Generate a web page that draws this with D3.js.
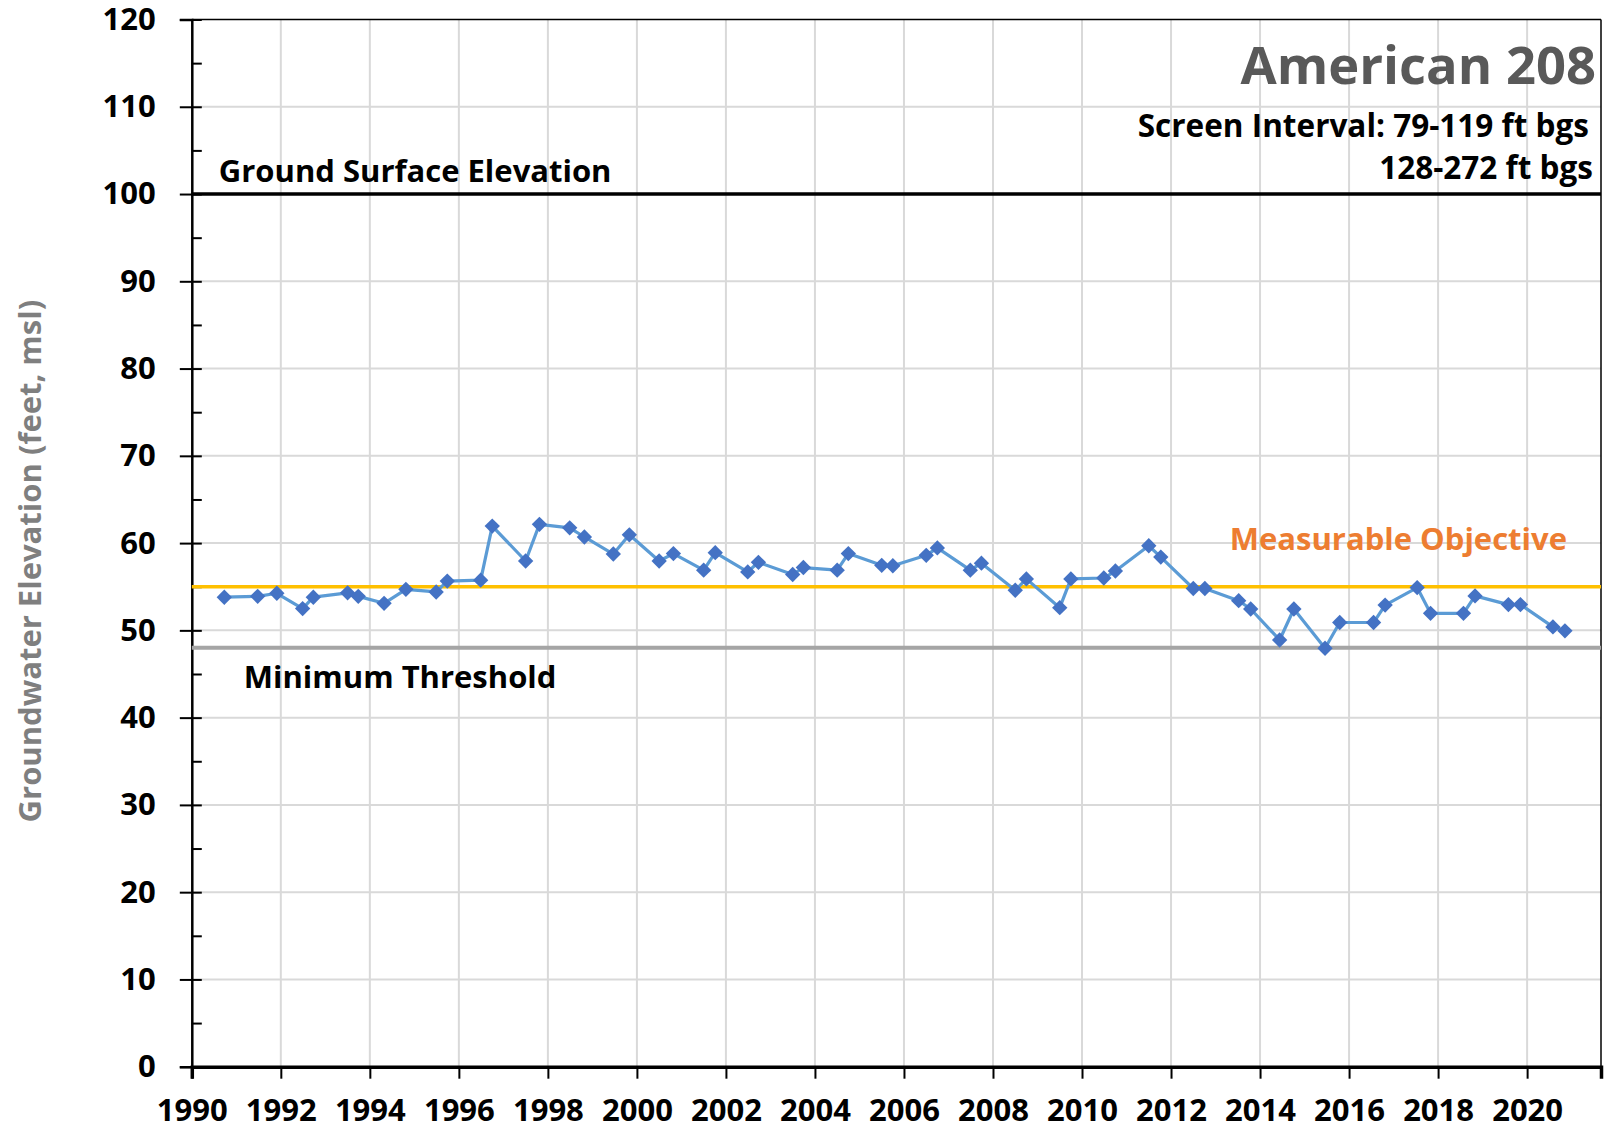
<!DOCTYPE html>
<html>
<head>
<meta charset="utf-8">
<script src="https://cdn.jsdelivr.net/npm/d3@7"></script>
<style>
  body { margin: 0; background: #fff; }
  text { font-family: "Open Sans", Lato, sans-serif; font-weight: bold; }
</style>
</head>
<body>
<script>
// measured water levels (decimal year, feet msl)
const years = [
  1990.73, 1991.48, 1991.91, 1992.49, 1992.73, 1993.50, 1993.74, 1994.32, 1994.81, 1995.49,
  1995.74, 1996.49, 1996.75, 1997.50, 1997.81, 1998.49, 1998.82, 1999.47, 1999.83, 2000.50,
  2000.82, 2001.50, 2001.76, 2002.49, 2002.73, 2003.50, 2003.74, 2004.50, 2004.75, 2005.50,
  2005.75, 2006.50, 2006.75, 2007.49, 2007.74, 2008.50, 2008.75, 2009.50, 2009.75, 2010.49,
  2010.75, 2011.50, 2011.77, 2012.50, 2012.76, 2013.52, 2013.79, 2014.44, 2014.76, 2015.46,
  2015.79, 2016.55, 2016.81, 2017.53, 2017.83, 2018.57, 2018.83, 2019.58, 2019.85, 2020.58,
  2020.85
]
const levels = [
  53.8, 53.9, 54.25, 52.5, 53.8, 54.3, 53.9, 53.1, 54.7, 54.4,
  55.65, 55.75, 61.95, 57.95, 62.15, 61.75, 60.7, 58.75, 60.95, 57.95,
  58.8, 56.9, 58.9, 56.7, 57.8, 56.4, 57.2, 56.9, 58.8, 57.45,
  57.4, 58.6, 59.45, 56.9, 57.7, 54.6, 55.9, 52.6, 55.9, 56.0,
  56.8, 59.7, 58.4, 54.8, 54.8, 53.4, 52.45, 48.9, 52.45, 47.95,
  50.9, 50.9, 52.9, 54.9, 51.95, 51.95, 53.95, 52.95, 52.95, 50.4,
  49.95
]
const xTicks = [1990, 1992, 1994, 1996, 1998, 2000, 2002, 2004, 2006, 2008, 2010, 2012, 2014, 2016, 2018, 2020]
const yTicks = [0, 10, 20, 30, 40, 50, 60, 70, 80, 90, 100, 110, 120]
const groundSurface = 100
const measurableObjective = 55
const minimumThreshold = 48
const titleLines = ['Screen Interval: 79-119 ft bgs', '128-272 ft bgs']

const W = 1606, H = 1142
const margin = { top: 19.5, right: 5, bottom: 75.3, left: 191.8 }
const width = W - margin.left - margin.right
const height = H - margin.top - margin.bottom

const svg = d3.select('body').append('svg')
  .attr('width', W)
  .attr('height', H)

const g = svg.append('g')
  .attr('transform', `translate(${margin.left},${margin.top})`)

const x = d3.scaleLinear().domain([1990, 2021.66]).range([0, width])
const y = d3.scaleLinear().domain([0, 120]).range([height, 0])

// gridlines
g.append('g')
  .selectAll('line')
  .data(xTicks.slice(1))
  .join('line')
  .attr('x1', d => x(d)).attr('x2', d => x(d))
  .attr('y1', 0).attr('y2', height)
  .attr('stroke', '#d9d9d9').attr('stroke-width', 2)

g.append('g')
  .selectAll('line')
  .data(yTicks.slice(1, -1))
  .join('line')
  .attr('x1', 0).attr('x2', width)
  .attr('y1', d => y(d)).attr('y2', d => y(d))
  .attr('stroke', '#d9d9d9').attr('stroke-width', 2)

// frame top / right
g.append('line')
  .attr('x1', 0).attr('x2', width).attr('y1', 0).attr('y2', 0)
  .attr('stroke', '#000').attr('stroke-width', 1.5)
g.append('line')
  .attr('x1', width).attr('x2', width).attr('y1', 0).attr('y2', height)
  .attr('stroke', '#000').attr('stroke-width', 1.5)

// y axis: outer major ticks + inner ticks every 5
const yAxis = g.append('g')
  .call(d3.axisLeft(y).tickValues(yTicks).tickSize(12).tickPadding(24))
yAxis.select('.domain').attr('stroke-width', 2.5)
yAxis.selectAll('.tick line').attr('stroke-width', 2)
yAxis.selectAll('.tick text')
  .attr('font-size', 31)
  .attr('fill', '#000')

const yMinor = g.append('g')
  .call(d3.axisRight(y).tickValues(d3.range(0, 121, 5)).tickSize(10).tickFormat(''))
yMinor.select('.domain').remove()
yMinor.selectAll('.tick line').attr('stroke-width', 2)

// x axis
const xAxis = g.append('g')
  .attr('transform', `translate(0,${height})`)
  .call(d3.axisBottom(x).tickValues(xTicks).tickFormat(d3.format('d')).tickSize(12).tickPadding(20))
xAxis.select('.domain').attr('stroke-width', 3.5)
xAxis.selectAll('.tick line').attr('stroke-width', 2)
xAxis.selectAll('.tick text')
  .attr('font-size', 31)
  .attr('fill', '#000')

// reference lines
g.append('line')
  .attr('x1', 0).attr('x2', width)
  .attr('y1', y(groundSurface)).attr('y2', y(groundSurface))
  .attr('stroke', '#000').attr('stroke-width', 3.5)
g.append('line')
  .attr('x1', 0).attr('x2', width)
  .attr('y1', y(measurableObjective)).attr('y2', y(measurableObjective))
  .attr('stroke', '#ffc000').attr('stroke-width', 3.5)
g.append('line')
  .attr('x1', 0).attr('x2', width)
  .attr('y1', y(minimumThreshold)).attr('y2', y(minimumThreshold))
  .attr('stroke', '#a5a5a5').attr('stroke-width', 4)

// series
const pts = years.map((yr, i) => ({ yr, v: levels[i] }))

g.append('path')
  .datum(pts)
  .attr('fill', 'none')
  .attr('stroke', '#5b9bd5')
  .attr('stroke-width', 3.2)
  .attr('stroke-linejoin', 'round')
  .attr('d', d3.line().x(d => x(d.yr)).y(d => y(d.v)))

g.append('g')
  .selectAll('path')
  .data(pts)
  .join('path')
  .attr('transform', d => `translate(${x(d.yr)},${y(d.v)})`)
  .attr('d', d3.symbol(d3.symbolDiamond2, 150))
  .attr('fill', '#4472c4')

// labels
g.append('text')
  .attr('x', 27).attr('y', y(groundSurface) - 12)
  .attr('font-size', 31).attr('fill', '#000')
  .text('Ground Surface Elevation')

g.append('text')
  .attr('x', 52).attr('y', y(minimumThreshold) + 40)
  .attr('font-size', 31).attr('fill', '#000')
  .text('Minimum Threshold')

g.append('text')
  .attr('x', width - 34).attr('y', y(measurableObjective) - 37)
  .attr('text-anchor', 'end')
  .attr('font-size', 31).attr('fill', '#ed7d31')
  .text('Measurable Objective')

g.append('text')
  .attr('x', width - 5).attr('y', 64)
  .attr('text-anchor', 'end')
  .attr('font-size', 52.5).attr('fill', '#595959')
  .text('American 208')

g.append('text')
  .attr('x', width - 12).attr('y', 117)
  .attr('text-anchor', 'end')
  .attr('font-size', 31.5).attr('fill', '#000')
  .text(titleLines[0])

g.append('text')
  .attr('x', width - 8).attr('y', 159)
  .attr('text-anchor', 'end')
  .attr('font-size', 31.5).attr('fill', '#000')
  .text(titleLines[1])

svg.append('text')
  .attr('transform', `translate(41,${margin.top + height / 2 + 18}) rotate(-90)`)
  .attr('text-anchor', 'middle')
  .attr('font-size', 31).attr('fill', '#7f7f7f')
  .text('Groundwater Elevation (feet, msl)')
</script>
</body>
</html>
